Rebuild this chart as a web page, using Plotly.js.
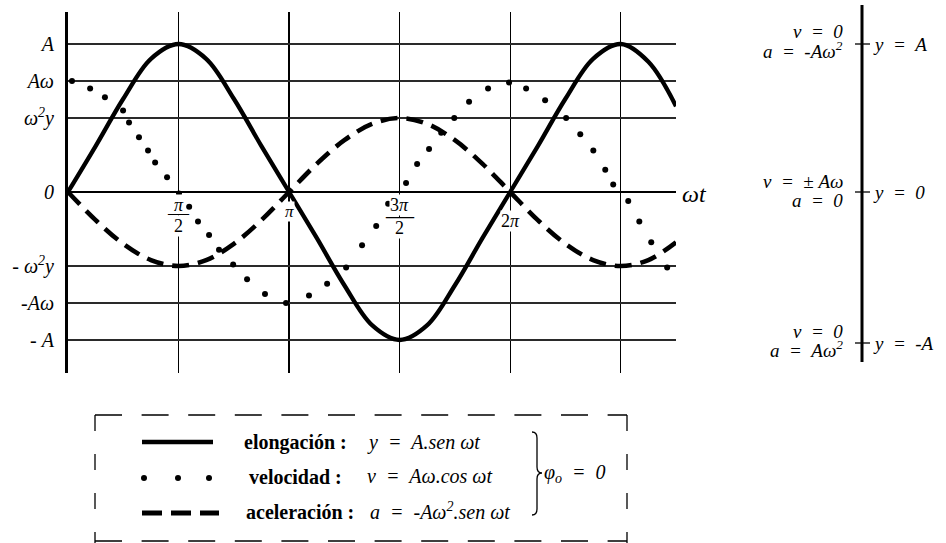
<!DOCTYPE html>
<html>
<head>
<meta charset="utf-8">
<script src="https://cdn.plot.ly/plotly-3.0.1.min.js"></script>
<style>
  html, body { margin: 0; padding: 0; background: #ffffff; }
  #chart { width: 946px; height: 543px; }
</style>
</head>
<body>
<div id="chart"></div>
<script>
// Phase ωt expressed in multiples of π; amplitudes in units of A.
const elongPhase  = [0, 0.125, 0.25, 0.375, 0.5, 0.625, 0.75, 0.875, 1, 1.125, 1.25, 1.375, 1.5,
                     1.625, 1.75, 1.875, 2, 2.125, 2.25, 2.375, 2.5, 2.625, 2.75];
const elongValues = [0, 0.31, 0.63, 0.9, 1, 0.9, 0.63, 0.31, 0, -0.31, -0.63, -0.9, -1,
                     -0.9, -0.63, -0.31, 0, 0.31, 0.63, 0.9, 1, 0.88, 0.58];

const accelPhase  = [0, 0.125, 0.25, 0.375, 0.5, 0.625, 0.75, 0.875, 1, 1.125, 1.25, 1.375, 1.5,
                     1.625, 1.75, 1.875, 2, 2.125, 2.25, 2.375, 2.5, 2.625, 2.75];
const accelValues = [0, -0.19, -0.35, -0.46, -0.5, -0.46, -0.35, -0.19, 0, 0.19, 0.35, 0.46, 0.5,
                     0.46, 0.35, 0.19, 0, -0.19, -0.35, -0.46, -0.5, -0.46, -0.34];

const velPhase  = [0.018, 0.100, 0.167, 0.249, 0.276, 0.321, 0.362, 0.394, 0.448, 0.502, 0.548,
                   0.588, 0.638, 0.683, 0.747, 0.810, 0.891, 0.986, 1.090, 1.172, 1.258, 1.330,
                   1.394, 1.448, 1.529, 1.579, 1.633, 1.688, 1.747, 1.814, 1.900, 1.995, 2.072,
                   2.158, 2.253, 2.317, 2.376, 2.430, 2.466, 2.534, 2.584, 2.638, 2.710];
const velValues = [0.75, 0.70, 0.64, 0.55, 0.47, 0.37, 0.28, 0.20, 0.10, -0.01, -0.10,
                   -0.20, -0.29, -0.39, -0.49, -0.59, -0.69, -0.75, -0.70, -0.62, -0.51, -0.36,
                   -0.23, -0.08, 0.06, 0.19, 0.29, 0.40, 0.50, 0.61, 0.70, 0.74, 0.70,
                   0.62, 0.50, 0.39, 0.28, 0.15, 0.05, -0.06, -0.20, -0.34, -0.51];

// Axis ticks
const yTickVals = [1, 0.75, 0.5, 0, -0.5, -0.75, -1];
const yTickText = ['<i>A</i>', '<i>Aω</i>', '<i>ω<sup>2</sup>y</i>', '<i>0</i>',
                   '<i>-\u00a0ω<sup>2</sup>y</i>', '<i>-Aω</i>', '<i>-\u00a0A</i>'];
const xTickVals = [0.5, 1, 1.5, 2, 2.5];

// Page geometry helpers (pixel -> paper fraction)
const W = 946, H = 543;
const M = { l: 68, r: 270, t: 12, b: 170 };
const PW = W - M.l - M.r, PH = H - M.t - M.b;
const PX = p => (p - M.l) / PW;
const PY = p => (H - M.b - p) / PH;

const SERIF = 'Liberation Serif, Times New Roman, serif';
const ink = '#000000';
const NB = '\u00a0';
const EQ = NB + ' = ' + NB;   // widely spaced equals sign

const traces = [
  { x: accelPhase, y: accelValues, type: 'scatter', mode: 'lines',
    line: { color: ink, width: 4.6, dash: '17px,9px', shape: 'spline' }, hoverinfo: 'skip' },
  { x: elongPhase, y: elongValues, type: 'scatter', mode: 'lines',
    line: { color: ink, width: 4.3, shape: 'spline' }, hoverinfo: 'skip' },
  { x: velPhase, y: velValues, type: 'scatter', mode: 'markers',
    marker: { color: ink, size: 6 }, hoverinfo: 'skip' }
];

const annotations = [];
function txt(x, y, text, opt) {
  annotations.push(Object.assign({
    xref: 'paper', yref: 'paper', x: PX(x), y: PY(y), text: text, showarrow: false,
    xanchor: 'center', yanchor: 'middle', borderpad: 0,
    font: { family: SERIF, size: 18, color: ink }
  }, opt || {}));
}
function tickLabel(xVal, y, text, size) {
  annotations.push({
    xref: 'x', yref: 'paper', x: xVal, y: PY(y), text: text, showarrow: false,
    xanchor: 'center', yanchor: 'middle', bgcolor: '#ffffff', borderpad: 0,
    font: { family: SERIF, size: size || 18, color: ink }
  });
}
function fracBar(xVal, y, size) {
  annotations.push({
    xref: 'x', yref: 'paper', x: xVal, y: PY(y), text: '—', showarrow: false,
    xanchor: 'center', yanchor: 'middle',
    font: { family: SERIF, size: size, color: ink }
  });
}

// ωt tick labels (fractions of π)
tickLabel(0.5, 205, '<i>π</i>');
tickLabel(0.5, 226, '2');
fracBar(0.5, 213, 21);
tickLabel(1, 211, '<i>π</i>', 17);
tickLabel(1.5, 205, '3<i>π</i>');
tickLabel(1.5, 228, '2');
fracBar(1.5, 215, 28);
tickLabel(2, 221, '2<i>π</i>', 18);

// horizontal axis name
txt(681, 194, '<i>ωt</i>', { xanchor: 'left', font: { family: SERIF, size: 24, color: ink } });

// state column on the right
const R = 844, L = 872;
const side = { family: SERIF, size: 19, color: ink };
txt(R, 31, '<i>v' + EQ + '0</i>', { xanchor: 'right', font: side });
txt(R, 50, '<i>a' + EQ + '-Aω<sup>2</sup></i>', { xanchor: 'right', font: side });
txt(L, 44, '<i>y' + EQ + 'A</i>', { xanchor: 'left', font: side });
txt(R, 181, '<i>v' + EQ + '±' + NB + 'Aω</i>', { xanchor: 'right', font: side });
txt(R, 200, '<i>a' + EQ + '0</i>', { xanchor: 'right', font: side });
txt(L, 192, '<i>y' + EQ + '0</i>', { xanchor: 'left', font: side });
txt(R, 331, '<i>v' + EQ + '0</i>', { xanchor: 'right', font: side });
txt(R, 349, '<i>a' + EQ + 'Aω<sup>2</sup></i>', { xanchor: 'right', font: side });
txt(L, 343, '<i>y' + EQ + '-A</i>', { xanchor: 'left', font: side });

// key box
const bold = { family: SERIF, size: 20, color: ink };
const ital = { family: SERIF, size: 20, color: ink };
txt(243, 442, '<b>elongación :</b>', { xanchor: 'left', font: bold });
txt(248, 477, '<b>velocidad :</b>', { xanchor: 'left', font: bold });
txt(245, 512, '<b>aceleración :</b>', { xanchor: 'left', font: bold });
txt(366, 442, '<i>y' + EQ + 'A.sen' + NB + 'ωt</i>', { xanchor: 'left', font: ital });
txt(366, 476, '<i>v' + EQ + 'Aω.cos' + NB + 'ωt</i>', { xanchor: 'left', font: ital });
txt(369, 511, '<i>a' + EQ + '-Aω<sup>2</sup>.sen' + NB + 'ωt</i>', { xanchor: 'left', font: ital });
txt(543, 473, '<i>φ<sub>o</sub>' + EQ + '0</i>', { xanchor: 'left', font: ital });

const shapes = [];
function seg(x0, y0, x1, y1, w, dash) {
  shapes.push({ type: 'line', xref: 'paper', yref: 'paper',
    x0: PX(x0), y0: PY(y0), x1: PX(x1), y1: PY(y1),
    line: { color: ink, width: w, dash: dash || 'solid' } });
}
// right-hand position axis
seg(862, 5, 862, 362, 3);
seg(855, 44, 870, 44, 1.3);
seg(855, 192, 870, 192, 1.3);
seg(855, 343, 870, 343, 1.3);

// key swatches
seg(142, 442, 213, 442, 4.3);
[144, 178, 209].forEach(cx => {
  shapes.push({ type: 'circle', xref: 'paper', yref: 'paper',
    x0: PX(cx - 3), x1: PX(cx + 3), y0: PY(478 + 3), y1: PY(478 - 3),
    fillcolor: ink, line: { width: 0 } });
});
seg(142, 513, 219, 513, 5, '20px,9px');

// dashed frame around the key
seg(95, 415, 627, 415, 1.3, '27px,19.6px');
seg(95, 541, 627, 541, 1.3, '27px,19.6px');
seg(95, 415, 95, 543, 1.3, '16px,23px');
seg(627, 415, 627, 543, 1.3, '16px,23px');

// brace grouping the three equations
const bp = [[532,432],[537,432],[537,438],[537,467],[537,473],[542,473],[537,473],[537,479],[537,509],[537,515],[532,515]]
  .map(p => [PX(p[0]), PY(p[1])]);
shapes.push({ type: 'path', xref: 'paper', yref: 'paper',
  path: `M ${bp[0]} Q ${bp[1]} ${bp[2]} L ${bp[3]} Q ${bp[4]} ${bp[5]} Q ${bp[6]} ${bp[7]} L ${bp[8]} Q ${bp[9]} ${bp[10]}`,
  line: { color: ink, width: 1.3 } });

const layout = {
  width: W, height: H,
  margin: { l: M.l, r: M.r, t: M.t, b: M.b, pad: 0 },
  paper_bgcolor: '#ffffff', plot_bgcolor: '#ffffff',
  showlegend: false,
  xaxis: {
    range: [0, 2.75], tickvals: xTickVals, showticklabels: false, ticks: '',
    showgrid: true, gridcolor: '#000000', gridwidth: 1.3,
    zeroline: false, showline: false, fixedrange: true
  },
  yaxis: {
    range: [-(373 - 192) / 148, (192 - 12) / 148],
    tickvals: yTickVals, ticktext: yTickText, ticks: '', ticklabelstandoff: 7,
    tickfont: { family: SERIF, size: 20, color: ink },
    showgrid: true, gridcolor: '#2a2a2a', gridwidth: 1.3,
    zeroline: true, zerolinecolor: ink, zerolinewidth: 2.5,
    showline: true, linecolor: ink, linewidth: 3, fixedrange: true
  },
  annotations: annotations,
  shapes: shapes
};

Plotly.newPlot('chart', traces, layout, { displayModeBar: false, staticPlot: true });
</script>
</body>
</html>
